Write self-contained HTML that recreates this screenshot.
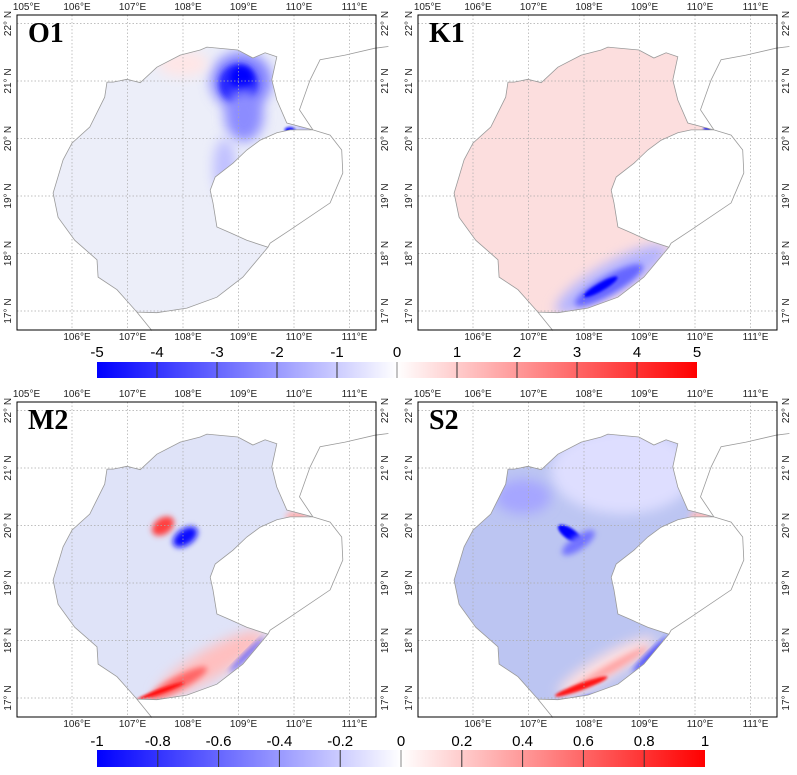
<!DOCTYPE html>
<html><head><meta charset="utf-8"><style>
body{margin:0;background:#fff;width:797px;height:775px;overflow:hidden;font-family:"Liberation Sans",sans-serif}
svg{display:block}
</style></head><body>
<svg id="fig" width="797" height="775" viewBox="0 0 797 775" xmlns="http://www.w3.org/2000/svg">
<defs>
<filter id="bl" x="-50%" y="-50%" width="200%" height="200%"><feGaussianBlur stdDeviation="6"/></filter>
<filter id="bm" x="-50%" y="-50%" width="200%" height="200%"><feGaussianBlur stdDeviation="3"/></filter>
<filter id="bs" x="-50%" y="-50%" width="200%" height="200%"><feGaussianBlur stdDeviation="1.2"/></filter>
<clipPath id="dom"><polygon id="dompoly" points=""/></clipPath>
<linearGradient id="cbg" x1="0" x2="1" y1="0" y2="0">
<stop offset="0" stop-color="#0000ff"/><stop offset="0.5" stop-color="#ffffff"/><stop offset="1" stop-color="#ff0000"/>
</linearGradient>
</defs>
<g id="panels"></g>
<g id="cbars"></g>
</svg>
<script>
// ---- data ----
const lonTicks=[106,107,108,109,110,111];
const latTicks=[17,18,19,20,21,22];
const cbar1Ticks=[-5,-4,-3,-2,-1,0,1,2,3,4,5];
const cbar2Ticks=[-1,-0.8,-0.6,-0.4,-0.2,0,0.2,0.4,0.6,0.8,1];
const panelNames=["O1","K1","M2","S2"];
const panelBase=["#eceef9","#fcdede","#dfe3f8","#bcc5f2"];
// sea domain outline (lon,lat)
const domainLon=[106.63,106.59,106.32,106.0,105.84,105.66,105.75,106.05,106.45,106.47,106.81,107.17,107.53,108.07,108.61,109.08,109.53,109.15,108.85,108.61,108.54,108.49,108.58,108.9,109.15,109.39,109.69,109.93,110.34,109.87,109.69,109.6,109.69,109.48,109.26,108.99,108.43,108.31,107.95,107.53,107.23,106.99,106.74];
const domainLat=[20.98,20.72,20.2,19.92,19.63,19.05,18.63,18.23,17.89,17.59,17.37,16.98,16.97,17.05,17.24,17.59,18.11,18.23,18.36,18.46,18.88,19.1,19.33,19.57,19.8,19.97,20.1,20.15,20.15,20.27,20.67,21.02,21.42,21.49,21.4,21.54,21.59,21.54,21.45,21.24,20.97,21.03,20.98];
const hainanLon=[110.34,110.65,110.86,110.88,110.65,109.93,109.57,109.53];
const hainanLat=[20.15,20.06,19.8,19.4,18.88,18.41,18.18,18.11];
const leizhouLon=[110.34,110.1,110.29,110.47,110.92,111.46,111.7];
const leizhouLat=[20.15,20.5,21.02,21.37,21.45,21.57,21.6];
// anomaly blobs per panel: lon, lat, rx(deg), ry(deg), rotation, value (-1..1), blur level
const blobLon=[[109.05,109.0,109.05,109.1,108.75,108.0,109.93,110.2],
  [108.5,108.45,108.3,110.23],
  [107.64,108.04,108.5,107.9,107.6,109.15,110.4,110.05],
  [108.7,107.75,107.9,108.4,108.45,107.95,108.1,109.2,110.4,110.1,106.9]];
const blobLat=[[21.0,20.95,21.05,20.4,19.5,21.3,20.15,20.18],
  [17.55,17.45,17.42,20.15],
  [19.99,19.8,17.6,17.25,17.12,17.75,20.15,20.15],
  [20.95,19.85,19.7,17.55,17.5,17.2,17.0,17.75,20.15,20.15,20.5]];
const blobRx=[[0.55,0.35,0.2,0.35,0.2,0.45,0.1,0.2],
  [1.15,0.7,0.35,0.08],
  [0.22,0.25,1.1,0.6,0.45,0.45,0.08,0.2],
  [1.3,0.1,0.35,1.0,0.8,0.5,0.4,0.45,0.1,0.2,0.5]];
const blobRy=[[0.5,0.35,0.2,0.45,0.5,0.22,0.05,0.05],
  [0.28,0.16,0.07,0.06],
  [0.14,0.14,0.25,0.12,0.04,0.04,0.08,0.1],
  [0.75,0.25,0.12,0.2,0.08,0.06,0.05,0.05,0.08,0.1,0.3]];
const blobRot=[[0,0,0,0,0,0,0,0],
  [-30,-30,-30,0],
  [-35,-35,-30,-28,-20,-45,0,0],
  [0,-55,-35,-30,-30,-20,-12,-45,0,0,0]];
const blobVal=[[-0.5,-0.85,-1,-0.45,-0.25,0.1,-0.95,-0.3],
  [-0.3,-0.6,-1,-0.9],
  [0.75,-0.95,0.25,0.6,0.95,-0.7,-1,0.3],
  [-0.13,-1,-0.55,0.12,0.35,0.9,-1,-0.8,-1,0.25,-0.35]];
const blobBlur=[[0,1,1,0,0,0,2,1],[0,1,2,2],[1,1,0,1,2,1,2,1],[0,2,1,0,1,2,2,1,2,1,0]];
// ---- geometry ----
const NS="http://www.w3.org/2000/svg";
const offX=[0,401,0,401], offY=[0,0,387,387];
const X0=17,Y0=15,W=359,H=315;
function xs(lon){return 72+(lon-106)*55.5;}
function ys(lat){return 311-(lat-17)*57.5;}
function el(t,a,p){const e=document.createElementNS(NS,t);for(const k in a)e.setAttribute(k,a[k]);if(p)p.appendChild(e);return e;}
function col(v){const t=Math.min(1,Math.abs(v));const c=Math.round(255*(1-t));return v<0?`rgb(${c},${c},255)`:`rgb(255,${c},${c})`;}
function line(lons,lats){return lons.map((l,i)=>(i?'L':'M')+xs(l).toFixed(1)+','+ys(lats[i]).toFixed(1)).join(' ');}
const pts=domainLon.map((l,i)=>xs(l).toFixed(1)+","+ys(domainLat[i]).toFixed(1)).join(" ");
document.getElementById('dompoly').setAttribute('points',pts);
const filt=['url(#bl)','url(#bm)','url(#bs)'];
const panels=document.getElementById('panels');
for(let p=0;p<4;p++){
  const g=el('g',{transform:`translate(${offX[p]},${offY[p]})`},panels);
  
  
  el('rect',{x:X0,y:Y0,width:W,height:H,fill:'#fff'},g);
  const sea=el('polygon',{points:pts,fill:panelBase[p]},g);
  
  
  const bg=el('g',{'clip-path':'url(#dom)'},g);
  for(let i=0;i<blobLon[p].length;i++){
    const cx=xs(blobLon[p][i]),cy=ys(blobLat[p][i]);
    const b=el('ellipse',{cx:cx,cy:cy,rx:blobRx[p][i]*55.5,ry:blobRy[p][i]*57.5,fill:col(blobVal[p][i]),
      transform:`rotate(${blobRot[p][i]} ${cx} ${cy})`,filter:filt[blobBlur[p][i]]},bg);
    
    
  }
  el('polygon',{points:pts,fill:'none',stroke:'#9a9a9a','stroke-width':0.8},g);
  el('path',{d:line(hainanLon,hainanLat),fill:'none',stroke:'#9a9a9a','stroke-width':0.8},g);
  el('path',{d:line(leizhouLon,leizhouLat),fill:'none',stroke:'#9a9a9a','stroke-width':0.8},g);
  el('path',{d:line([107.17,107.44],[16.98,16.66]),fill:'none',stroke:'#9a9a9a','stroke-width':0.8},g);
  lonTicks.forEach(l=>{const x=xs(l);el('line',{x1:x,x2:x,y1:Y0,y2:Y0+H,stroke:'#aaa','stroke-width':0.7,'stroke-dasharray':'1.5,2'},g);
    const t=el('text',{x:x+5,y:10,'font-size':10,'text-anchor':'middle',fill:'#222'},g);t.textContent=l+"°E";
    const b=el('text',{x:x+5,y:340,'font-size':10,'text-anchor':'middle',fill:'#222'},g);b.textContent=l+"°E";});
  {const t=el('text',{x:xs(105)+10,y:10,'font-size':10,'text-anchor':'middle',fill:'#222'},g);t.textContent="105°E";}
  latTicks.forEach(l=>{const y=ys(l);el('line',{x1:X0,x2:X0+W,y1:y,y2:y,stroke:'#aaa','stroke-width':0.7,'stroke-dasharray':'1.5,2'},g);
    const a=el('text',{x:0,y:0,'font-size':10,'text-anchor':'middle',fill:'#222',transform:`translate(11,${y}) rotate(-90)`},g);a.textContent=l+"° N";
    const b=el('text',{x:0,y:0,'font-size':10,'text-anchor':'middle',fill:'#222',transform:`translate(388,${y}) rotate(-90)`},g);b.textContent=l+"° N";});
  el('rect',{x:X0,y:Y0,width:W,height:H,fill:'none',stroke:'#000','stroke-width':1},g);
  const lab=el('text',{x:28,y:42,'font-size':28,'font-weight':'bold','font-family':'"Liberation Serif",serif',fill:'#000'},g);
  lab.textContent=panelNames[p];
  
  
}
const cb=document.getElementById('cbars');
function cbar(ticks,x0,x1,y,h,ly,name){
  const g=el('g',{},cb);
  
  
  el('rect',{x:x0,y:y,width:x1-x0,height:h,fill:'url(#cbg)'},g);
  const mn=ticks[0],mx=ticks[ticks.length-1];
  ticks.forEach(v=>{const x=x0+(v-mn)/(mx-mn)*(x1-x0);
    if(v!==mn&&v!==mx)el('line',{x1:x,x2:x,y1:y,y2:y+h,stroke:v===0?'#888':'#333','stroke-width':1},g);
    const t=el('text',{x:x,y:ly,'font-size':15,'text-anchor':'middle',fill:'#000'},g);t.textContent=String(v);});
}
cbar(cbar1Ticks,97,697,362,16,357,'colorbar-diurnal');
cbar(cbar2Ticks,97,705,750,17,746,'colorbar-semidiurnal');
</script>
</body></html>
